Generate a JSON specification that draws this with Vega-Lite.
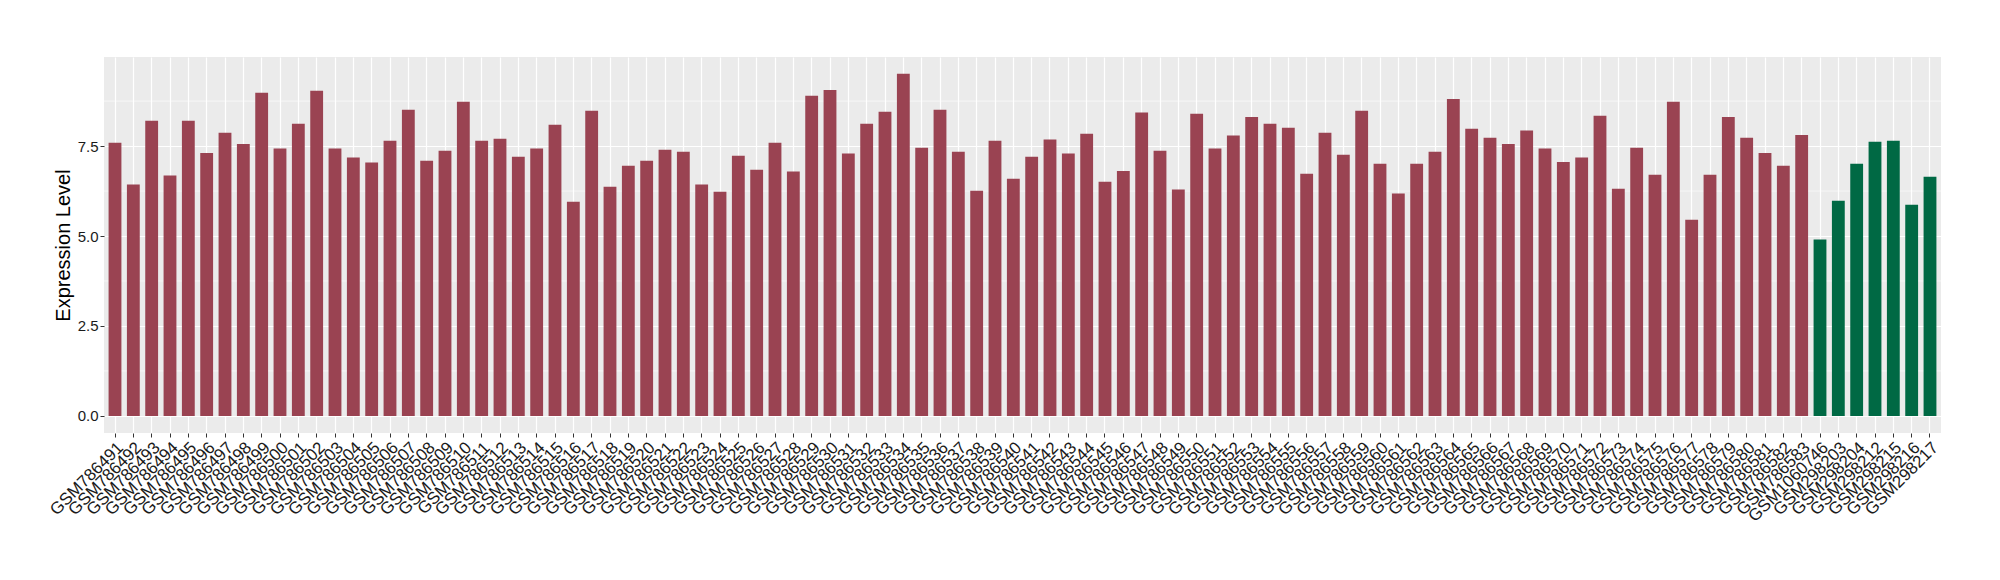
{
  "$schema": "https://vega.github.io/schema/vega-lite/v6.json",
  "width": 1837,
  "height": 376,
  "padding": {"left": 46, "top": 57, "right": 40, "bottom": 0},
  "background": "white",
  "config": {
    "view": {"fill": "#EBEBEB", "stroke": null},
    "axis": {
      "domain": false,
      "gridColor": "#FFFFFF",
      "gridWidth": 1.2,
      "tickColor": "#333333",
      "tickSize": 4,
      "labelFont": "Liberation Sans",
      "labelFontSize": 15,
      "labelColor": "#1a1a1a",
      "labelPadding": 2,
      "titleFont": "Liberation Sans",
      "titleFontSize": 20,
      "titleFontWeight": "normal",
      "titleColor": "#000000"
    }
  },
  "datasets": {
    "minor": [{"m": 1.25}, {"m": 3.75}, {"m": 6.25}, {"m": 8.75}]
  },
  "data": {
    "values": [
      {"sample": "GSM786491", "value": 7.59, "group": "A"},
      {"sample": "GSM786492", "value": 6.43, "group": "A"},
      {"sample": "GSM786493", "value": 8.2, "group": "A"},
      {"sample": "GSM786494", "value": 6.68, "group": "A"},
      {"sample": "GSM786495", "value": 8.2, "group": "A"},
      {"sample": "GSM786496", "value": 7.31, "group": "A"},
      {"sample": "GSM786497", "value": 7.87, "group": "A"},
      {"sample": "GSM786498", "value": 7.56, "group": "A"},
      {"sample": "GSM786499", "value": 8.98, "group": "A"},
      {"sample": "GSM786500", "value": 7.43, "group": "A"},
      {"sample": "GSM786501", "value": 8.12, "group": "A"},
      {"sample": "GSM786502", "value": 9.04, "group": "A"},
      {"sample": "GSM786503", "value": 7.43, "group": "A"},
      {"sample": "GSM786504", "value": 7.18, "group": "A"},
      {"sample": "GSM786505", "value": 7.04, "group": "A"},
      {"sample": "GSM786506", "value": 7.65, "group": "A"},
      {"sample": "GSM786507", "value": 8.51, "group": "A"},
      {"sample": "GSM786508", "value": 7.09, "group": "A"},
      {"sample": "GSM786509", "value": 7.37, "group": "A"},
      {"sample": "GSM786510", "value": 8.73, "group": "A"},
      {"sample": "GSM786511", "value": 7.65, "group": "A"},
      {"sample": "GSM786512", "value": 7.7, "group": "A"},
      {"sample": "GSM786513", "value": 7.2, "group": "A"},
      {"sample": "GSM786514", "value": 7.43, "group": "A"},
      {"sample": "GSM786515", "value": 8.09, "group": "A"},
      {"sample": "GSM786516", "value": 5.95, "group": "A"},
      {"sample": "GSM786517", "value": 8.48, "group": "A"},
      {"sample": "GSM786518", "value": 6.37, "group": "A"},
      {"sample": "GSM786519", "value": 6.95, "group": "A"},
      {"sample": "GSM786520", "value": 7.09, "group": "A"},
      {"sample": "GSM786521", "value": 7.4, "group": "A"},
      {"sample": "GSM786522", "value": 7.34, "group": "A"},
      {"sample": "GSM786523", "value": 6.43, "group": "A"},
      {"sample": "GSM786524", "value": 6.23, "group": "A"},
      {"sample": "GSM786525", "value": 7.23, "group": "A"},
      {"sample": "GSM786526", "value": 6.84, "group": "A"},
      {"sample": "GSM786527", "value": 7.59, "group": "A"},
      {"sample": "GSM786528", "value": 6.79, "group": "A"},
      {"sample": "GSM786529", "value": 8.9, "group": "A"},
      {"sample": "GSM786530", "value": 9.06, "group": "A"},
      {"sample": "GSM786531", "value": 7.29, "group": "A"},
      {"sample": "GSM786532", "value": 8.12, "group": "A"},
      {"sample": "GSM786533", "value": 8.45, "group": "A"},
      {"sample": "GSM786534", "value": 9.51, "group": "A"},
      {"sample": "GSM786535", "value": 7.45, "group": "A"},
      {"sample": "GSM786536", "value": 8.51, "group": "A"},
      {"sample": "GSM786537", "value": 7.34, "group": "A"},
      {"sample": "GSM786538", "value": 6.26, "group": "A"},
      {"sample": "GSM786539", "value": 7.65, "group": "A"},
      {"sample": "GSM786540", "value": 6.59, "group": "A"},
      {"sample": "GSM786541", "value": 7.2, "group": "A"},
      {"sample": "GSM786542", "value": 7.68, "group": "A"},
      {"sample": "GSM786543", "value": 7.29, "group": "A"},
      {"sample": "GSM786544", "value": 7.84, "group": "A"},
      {"sample": "GSM786545", "value": 6.51, "group": "A"},
      {"sample": "GSM786546", "value": 6.81, "group": "A"},
      {"sample": "GSM786547", "value": 8.43, "group": "A"},
      {"sample": "GSM786548", "value": 7.37, "group": "A"},
      {"sample": "GSM786549", "value": 6.29, "group": "A"},
      {"sample": "GSM786550", "value": 8.4, "group": "A"},
      {"sample": "GSM786551", "value": 7.43, "group": "A"},
      {"sample": "GSM786552", "value": 7.79, "group": "A"},
      {"sample": "GSM786553", "value": 8.31, "group": "A"},
      {"sample": "GSM786554", "value": 8.12, "group": "A"},
      {"sample": "GSM786555", "value": 8.01, "group": "A"},
      {"sample": "GSM786556", "value": 6.73, "group": "A"},
      {"sample": "GSM786557", "value": 7.87, "group": "A"},
      {"sample": "GSM786558", "value": 7.26, "group": "A"},
      {"sample": "GSM786559", "value": 8.48, "group": "A"},
      {"sample": "GSM786560", "value": 7.01, "group": "A"},
      {"sample": "GSM786561", "value": 6.18, "group": "A"},
      {"sample": "GSM786562", "value": 7.01, "group": "A"},
      {"sample": "GSM786563", "value": 7.34, "group": "A"},
      {"sample": "GSM786564", "value": 8.81, "group": "A"},
      {"sample": "GSM786565", "value": 7.98, "group": "A"},
      {"sample": "GSM786566", "value": 7.73, "group": "A"},
      {"sample": "GSM786567", "value": 7.56, "group": "A"},
      {"sample": "GSM786568", "value": 7.93, "group": "A"},
      {"sample": "GSM786569", "value": 7.43, "group": "A"},
      {"sample": "GSM786570", "value": 7.06, "group": "A"},
      {"sample": "GSM786571", "value": 7.18, "group": "A"},
      {"sample": "GSM786572", "value": 8.34, "group": "A"},
      {"sample": "GSM786573", "value": 6.31, "group": "A"},
      {"sample": "GSM786574", "value": 7.45, "group": "A"},
      {"sample": "GSM786575", "value": 6.7, "group": "A"},
      {"sample": "GSM786576", "value": 8.73, "group": "A"},
      {"sample": "GSM786577", "value": 5.45, "group": "A"},
      {"sample": "GSM786578", "value": 6.7, "group": "A"},
      {"sample": "GSM786579", "value": 8.31, "group": "A"},
      {"sample": "GSM786580", "value": 7.73, "group": "A"},
      {"sample": "GSM786581", "value": 7.31, "group": "A"},
      {"sample": "GSM786582", "value": 6.95, "group": "A"},
      {"sample": "GSM786583", "value": 7.81, "group": "A"},
      {"sample": "GSM1060746", "value": 4.9, "group": "B"},
      {"sample": "GSM298203", "value": 5.98, "group": "B"},
      {"sample": "GSM298204", "value": 7.01, "group": "B"},
      {"sample": "GSM298212", "value": 7.62, "group": "B"},
      {"sample": "GSM298215", "value": 7.65, "group": "B"},
      {"sample": "GSM298216", "value": 5.87, "group": "B"},
      {"sample": "GSM298217", "value": 6.65, "group": "B"}
    ]
  },
  "layer": [
    {
      "data": {"name": "minor"},
      "mark": {"type": "rule", "color": "#FFFFFF", "strokeWidth": 0.6},
      "encoding": {
        "y": {"field": "m", "type": "quantitative", "scale": {"domain": [-0.475, 9.975]}}
      }
    },
    {
      "mark": {"type": "bar"},
      "encoding": {
        "x": {
          "field": "sample",
          "type": "nominal",
          "sort": null,
          "scale": {"paddingInner": 0.3, "paddingOuter": 0.25},
          "axis": {
            "title": null,
            "labelAngle": -45,
            "labelAlign": "right",
            "labelBaseline": "top",
            "labelFontSize": 17,
            "grid": true,
            "labelOverlap": false
          }
        },
        "y": {
          "field": "value",
          "type": "quantitative",
          "scale": {"domain": [-0.475, 9.975], "nice": false, "zero": false},
          "axis": {
            "title": "Expression Level",
            "values": [0, 2.5, 5, 7.5],
            "format": ".1f",
            "titlePadding": 4
          }
        },
        "y2": {"datum": 0},
        "color": {
          "field": "group",
          "type": "nominal",
          "scale": {"domain": ["A", "B"], "range": ["#9A4352", "#006944"]},
          "legend": null
        }
      }
    }
  ]
}
